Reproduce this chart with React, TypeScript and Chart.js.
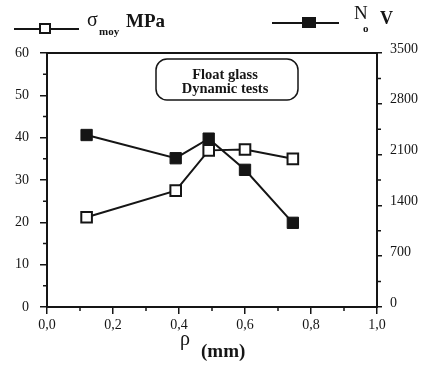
import React, { useEffect, useRef } from "react";
import { Chart, registerables } from "chart.js";

Chart.register(...registerables);

const rhoValues = [0.12, 0.39, 0.49, 0.6, 0.745];
const sigmaValues = [21.2, 27.5, 37, 37.2, 35];
const noValues = [2370, 2050, 2320, 1890, 1160];
const leftTicks = [0, 10, 20, 30, 40, 50, 60];
const rightTicks = [0, 700, 1400, 2100, 2800, 3500];
const xTicks = [0, 0.2, 0.4, 0.6, 0.8, 1.0];
const boxLines = ["Float glass", "Dynamic tests"];

const INK = "#151515";
const SERIF = "'Liberation Serif', 'DejaVu Serif', serif";

const decorPlugin = {
  id: "decor",
  afterDraw(chart: any) {
    const ctx = chart.ctx as CanvasRenderingContext2D;
    const a = chart.chartArea;
    const sx = chart.scales.x;
    const sy = chart.scales.y;
    const sy2 = chart.scales.y2;
    ctx.save();
    ctx.strokeStyle = INK;
    ctx.fillStyle = INK;
    // frame
    ctx.lineWidth = 2;
    ctx.strokeRect(a.left, a.top, a.right - a.left, a.bottom - a.top);
    // minor ticks
    ctx.lineWidth = 1.5;
    ctx.beginPath();
    for (let v = 0.1; v < 1; v += 0.2) {
      const px = sx.getPixelForValue(v);
      ctx.moveTo(px, a.bottom);
      ctx.lineTo(px, a.bottom + 4);
    }
    for (let v = 5; v < 60; v += 10) {
      const py = sy.getPixelForValue(v);
      ctx.moveTo(a.left, py);
      ctx.lineTo(a.left - 4, py);
    }
    for (let v = 350; v < 3500; v += 700) {
      const py = sy2.getPixelForValue(v);
      ctx.moveTo(a.right, py);
      ctx.lineTo(a.right + 4, py);
    }
    ctx.stroke();

    // annotation box
    const bx = 156, by = 59, bw = 142, bh = 41, r = 11;
    ctx.lineWidth = 1.5;
    ctx.beginPath();
    ctx.roundRect(bx, by, bw, bh, r);
    ctx.fillStyle = "#fff";
    ctx.fill();
    ctx.stroke();
    ctx.fillStyle = INK;
    ctx.font = `bold 14.5px ${SERIF}`;
    ctx.textAlign = "center";
    ctx.textBaseline = "alphabetic";
    ctx.fillText(boxLines[0], 225, 79);
    ctx.fillText(boxLines[1], 225, 93);

    // legend 1
    ctx.lineWidth = 2;
    ctx.beginPath();
    ctx.moveTo(14, 29);
    ctx.lineTo(79, 29);
    ctx.stroke();
    ctx.fillStyle = "#fff";
    ctx.fillRect(40, 24, 10, 9);
    ctx.strokeRect(40, 24, 10, 9);
    ctx.fillStyle = INK;
    ctx.textAlign = "left";
    ctx.font = `20px ${SERIF}`;
    ctx.fillText("σ", 87, 26);
    ctx.font = `bold 11px ${SERIF}`;
    ctx.fillText("moy", 99, 35);
    ctx.font = `bold 19px ${SERIF}`;
    ctx.fillText("MPa", 126, 27);

    // legend 2
    ctx.beginPath();
    ctx.moveTo(272, 23);
    ctx.lineTo(339, 23);
    ctx.stroke();
    ctx.fillRect(302, 17, 14, 11);
    ctx.font = `19px ${SERIF}`;
    ctx.fillText("N", 354, 19);
    ctx.font = `bold 11px ${SERIF}`;
    ctx.fillText("o", 363, 32);
    ctx.font = `bold 18px ${SERIF}`;
    ctx.fillText("V", 380, 24);

    // x axis title
    ctx.font = `20px ${SERIF}`;
    ctx.fillText("ρ", 180, 345);
    ctx.font = `bold 19px ${SERIF}`;
    ctx.fillText("(mm)", 201, 357);
    ctx.restore();
  },
};

export default function App() {
  const ref = useRef<HTMLCanvasElement>(null);
  useEffect(() => {
    if (!ref.current) return;
    const font = { family: SERIF, size: 14 };
    const chart = new Chart(ref.current, {
      type: "line",
      data: {
        datasets: [
          {
            label: "σmoy MPa",
            data: rhoValues.map((x, i) => ({ x, y: sigmaValues[i] })),
            yAxisID: "y",
            order: 0,
            borderColor: INK,
            borderWidth: 2,
            pointStyle: "rect",
            pointRadius: 7.5,
            pointBackgroundColor: "#fff",
            pointBorderColor: INK,
            pointBorderWidth: 2,
          },
          {
            label: "No V",
            data: rhoValues.map((x, i) => ({ x, y: noValues[i] })),
            yAxisID: "y2",
            order: 1,
            borderColor: INK,
            borderWidth: 2,
            pointStyle: "rect",
            pointRadius: 8,
            pointBackgroundColor: INK,
            pointBorderColor: INK,
            pointBorderWidth: 1,
          },
        ],
      },
      options: {
        animation: false,
        responsive: false,
        layout: { padding: { top: 53, left: 0, right: 0, bottom: 0 } },
        plugins: { legend: { display: false }, tooltip: { enabled: false } },
        scales: {
          x: {
            type: "linear",
            min: 0,
            max: 1,
            afterBuildTicks: (s: any) => {
              s.ticks = xTicks.map((v) => ({ value: v }));
            },
            afterFit: (s: any) => {
              s.height = 58;
            },
            border: { display: false },
            grid: { drawOnChartArea: false, tickLength: 7, color: INK, lineWidth: 1.5 },
            ticks: {
              font,
              color: INK,
              padding: 3,
              maxRotation: 0,
              callback: (v: any) => Number(v).toFixed(1).replace(".", ","),
            },
          },
          y: {
            position: "left",
            min: 0,
            max: 60,
            afterBuildTicks: (s: any) => {
              s.ticks = leftTicks.map((v) => ({ value: v }));
            },
            afterFit: (s: any) => {
              s.width = 47;
            },
            border: { display: false },
            grid: { drawOnChartArea: false, tickLength: 7, color: INK, lineWidth: 1.5 },
            ticks: { font, color: INK, padding: 11 },
          },
          y2: {
            position: "right",
            min: 0,
            max: 3500,
            afterBuildTicks: (s: any) => {
              s.ticks = rightTicks.map((v) => ({ value: v }));
            },
            afterFit: (s: any) => {
              s.width = 44;
            },
            border: { display: false },
            grid: { drawOnChartArea: false, tickLength: 5, color: INK, lineWidth: 1.5 },
            ticks: {
              font,
              color: INK,
              padding: 8,
              labelOffset: -4,
              callback: (v: any) => String(v),
            },
          },
        },
      },
      plugins: [decorPlugin],
    } as any);
    return () => chart.destroy();
  }, []);
  return (
    <div style={{ position: "fixed", left: 0, top: 0, width: 421, height: 365, background: "#fff" }}>
      <canvas ref={ref} width={421} height={365} style={{ width: 421, height: 365 }} />
    </div>
  );
}
